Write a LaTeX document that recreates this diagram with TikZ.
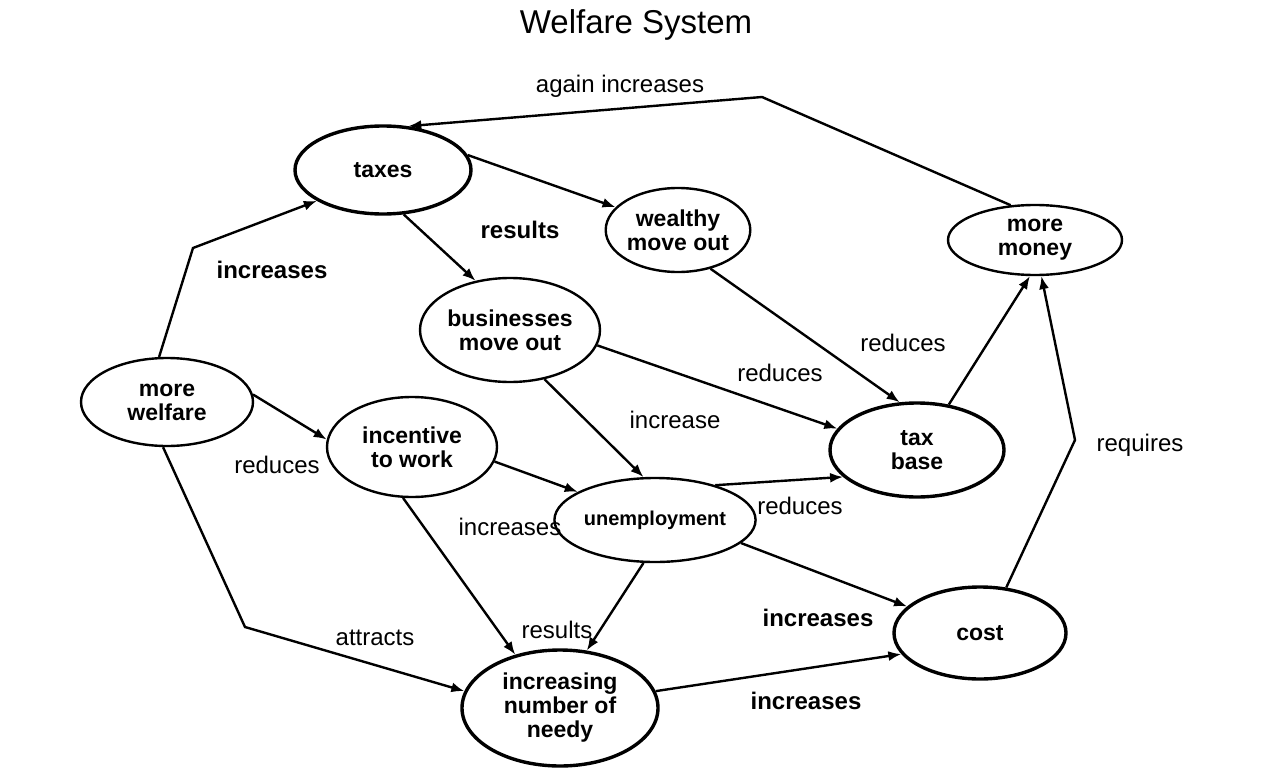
\documentclass[tikz,border=0pt]{standalone}
\usepackage{fontspec}
\setmainfont{Liberation Sans}
\usetikzlibrary{shapes.geometric,arrows.meta}
\begin{document}
\begin{tikzpicture}[x=1pt,y=-1pt,
  el/.style={ellipse,draw,line width=2.4pt,inner sep=0pt,font=\fontsize{23}{27}\selectfont\bfseries,align=center},
  th/.style={line width=3.4pt},
  ar/.style={line width=2.4pt,-{Latex[length=13,width=10]}},
  lb/.style={font=\fontsize{24}{28}\selectfont},
  bl/.style={font=\fontsize{24}{28}\selectfont\bfseries}]
\useasboundingbox (0,0) rectangle (1280,784);
\node at (636,25) {\fontsize{33}{38}\selectfont Welfare System};
\node[el,th,minimum width=176,minimum height=88] (tax) at (383,170) {taxes};
\node[el,minimum width=140,minimum height=84] (wm) at (678,230) {wealthy\\[-3pt]move out};
\node[el,minimum width=174,minimum height=70] (mm) at (1035,240) {more\\[-3pt]money};
\node[el,minimum width=180,minimum height=104] (bm) at (510,330) {businesses\\[-3pt]move out};
\node[el,minimum width=172,minimum height=88] (mw) at (167,402) {more\\[-3pt]welfare};
\node[el,minimum width=170,minimum height=100] (iw) at (412,447) {incentive\\[-3pt]to work};
\node[el,th,minimum width=174,minimum height=94] (tb) at (917,450) {tax\\[-3pt]base};
\node[el,minimum width=170,minimum height=84,font=\fontsize{20}{24}\selectfont\bfseries] (un) at (655,520) {unemployment};
\node[el,th,minimum width=172,minimum height=92] (co) at (980,633) {cost};
\node[el,th,minimum width=196,minimum height=116] (nd) at (560,708) {increasing\\[-3pt]number of\\[-3pt]needy};
\coordinate (c1) at (193,248);
\coordinate (c2) at (762,97);
\coordinate (c3) at (1075,440);
\coordinate (c4) at (245,627);
\draw[ar] (mw.100) -- (c1) -- (tax.205);
\draw[ar] (tax.10) -- (wm.160);
\draw[ar] (tax.295) -- (bm.125);
\draw[ar] (mm.125) -- (c2) -- (tax.60);
\draw[ar] (wm.310) -- (tb.110);
\draw[ar] (bm.350) -- (tb.165);
\draw[ar] (bm.305) -- (un.105);
\draw[ar] (tb.55) -- (mm.262);
\draw[ar] (co.60) -- (c3) -- (mm.280);
\draw[ar] (mw.5) -- (iw.175);
\draw[ar] (iw.350) -- (un.160);
\draw[ar] (un.30) -- (tb.200);
\draw[ar] (iw.260) -- (nd.130);
\draw[ar] (un.255) -- (nd.65);
\draw[ar] (un.345) -- (co.160);
\draw[ar] (mw.265) -- (c4) -- (nd.170);
\draw[ar] (nd.10) -- (co.195);
\node[bl] at (272,270) {increases};
\node[bl] at (520,230) {results};
\node[lb] at (620,86) {again increases};
\node[lb] at (903,343) {reduces};
\node[lb] at (780,373) {reduces};
\node[lb] at (675,420) {increase};
\node[lb] at (1140,445) {requires};
\node[lb] at (277,465) {reduces};
\node[lb] at (510,527) {increases};
\node[lb] at (800,506) {reduces};
\node[lb] at (557,630) {results};
\node[bl] at (818,618) {increases};
\node[lb] at (375,638) {attracts};
\node[bl] at (806,701) {increases};
\end{tikzpicture}
\end{document}
